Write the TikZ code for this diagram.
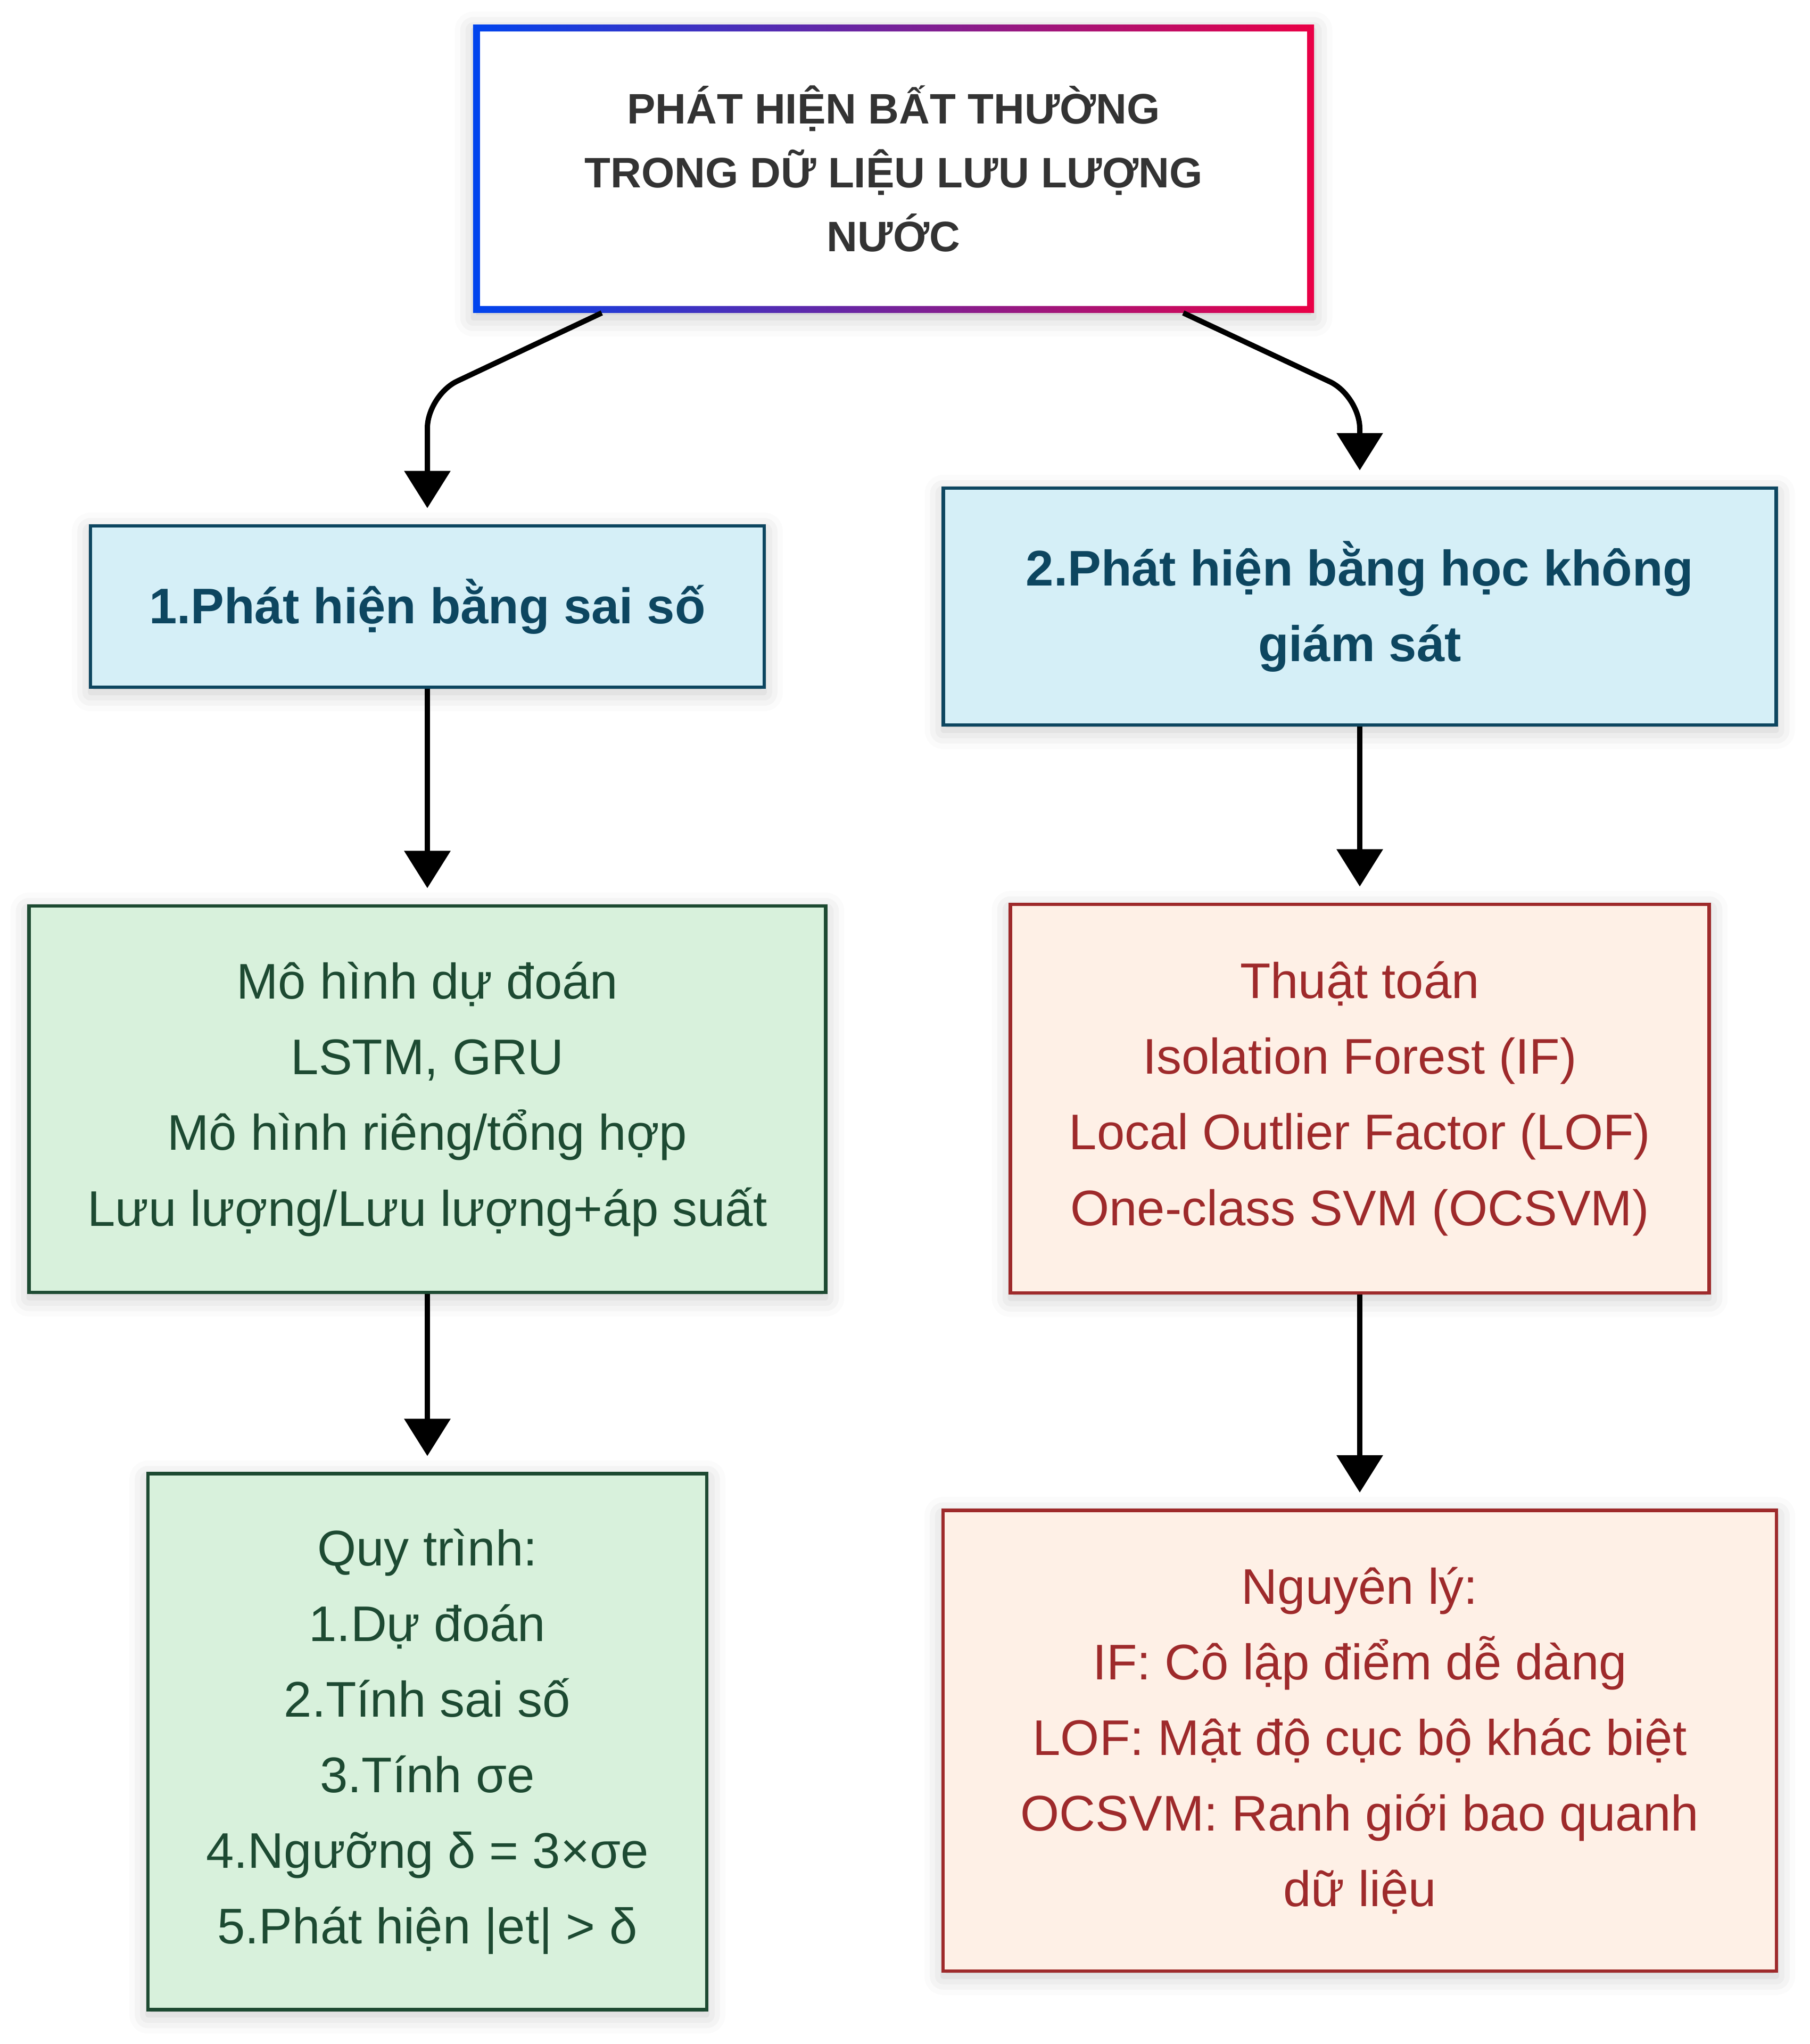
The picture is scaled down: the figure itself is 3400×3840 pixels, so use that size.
\documentclass[tikz,border=0pt]{standalone}
\usepackage{fontspec}
\setmainfont{Liberation Sans}
\usepackage{tikz}
\usetikzlibrary{arrows.meta,shadows.blur}

\definecolor{titleblue}{HTML}{0044EE}
\definecolor{titlered}{HTML}{EA0046}
\definecolor{titletext}{HTML}{333333}
\definecolor{branchfill}{HTML}{D5EFF7}
\definecolor{branchline}{HTML}{0D4660}
\definecolor{greenfill}{HTML}{D8F1DC}
\definecolor{greenline}{HTML}{1D4A32}
\definecolor{redfill}{HTML}{FEF0E6}
\definecolor{redline}{HTML}{9E2A2B}

\begin{document}
\begin{tikzpicture}[
    x=0.01cm, y=-0.01cm,
    every node/.style={font=\fontsize{26.75}{40.4}\selectfont, align=center, inner sep=0pt},
    softshadow/.style={blur shadow={shadow xshift=0cm, shadow yshift=-0.1cm,
        shadow blur radius=0.35cm, shadow opacity=22}},
    box/.style={draw, line width=0.065cm, softshadow},
    branch/.style={box, fill=branchfill, draw=branchline, text=branchline,
        font=\fontsize{26.75}{40.4}\selectfont\bfseries},
    errbox/.style={box, fill=greenfill, draw=greenline, text=greenline},
    algbox/.style={box, fill=redfill, draw=redline, text=redline},
    flow/.style={-{Triangle[width=0.85cm,length=0.7cm]}, line width=0.1cm,
        shorten >=0.3cm}
]

\useasboundingbox (0,0) rectangle (3400,3840);

% Title
\node[fill=white, softshadow, minimum width=15.78cm, minimum height=5.4cm,
      text=titletext, font=\fontsize{22.76}{34.1}\selectfont\bfseries]
    (title) at (1679,317)
    {PHÁT HIỆN BẤT THƯỜNG\\TRONG DỮ LIỆU LƯU LƯỢNG\\NƯỚC};
\shade[left color=titleblue, right color=titlered, even odd rule]
    (title.north west) rectangle (title.south east)
    ([xshift=0.13cm,yshift=-0.13cm]title.north west)
    rectangle ([xshift=-0.13cm,yshift=0.13cm]title.south east);

% Two branches
\node[branch, minimum width=12.65cm, minimum height=3.03cm]
    (errdet) at (803,1139.5)
    {1.Phát hiện bằng sai số};
\node[branch, minimum width=15.64cm, minimum height=4.45cm]
    (unsup) at (2555,1139.5)
    {2.Phát hiện bằng học không\\giám sát};

% Left column
\node[errbox, minimum width=14.96cm, minimum height=7.26cm]
    (model) at (803,2065)
    {Mô hình dự đoán\\LSTM, GRU\\Mô hình riêng/tổng hợp\\Lưu lượng/Lưu lượng+áp suất};
\node[errbox, minimum width=10.49cm, minimum height=10.06cm]
    (steps) at (803,3272)
    {Quy trình:\\1.Dự đoán\\2.Tính sai số\\3.Tính σe\\4.Ngưỡng δ = 3×σe\\5.Phát hiện |et| > δ};

% Right column
\node[algbox, minimum width=13.12cm, minimum height=7.30cm]
    (algo) at (2555,2064)
    {Thuật toán\\Isolation Forest (IF)\\Local Outlier Factor (LOF)\\One-class SVM (OCSVM)};
\node[algbox, minimum width=15.65cm, minimum height=8.65cm]
    (principle) at (2555,3270)
    {Nguyên lý:\\IF: Cô lập điểm dễ dàng\\LOF: Mật độ cục bộ khác biệt\\OCSVM: Ranh giới bao quanh\\dữ liệu};

% Arrows
\draw[flow, rounded corners=0.62cm]
    ([xshift=-5.48cm]title.south)
    -- ([yshift=2.42cm]errdet.north)
    -- (errdet.north);
\draw[flow, rounded corners=0.62cm]
    ([xshift=5.44cm]title.south)
    -- ([yshift=1.70cm]unsup.north)
    -- (unsup.north);
\draw[flow] (errdet.south) -- (model.north);
\draw[flow] (model.south) -- (steps.north);
\draw[flow] (unsup.south) -- (algo.north);
\draw[flow] (algo.south) -- (principle.north);

\end{tikzpicture}
\end{document}
